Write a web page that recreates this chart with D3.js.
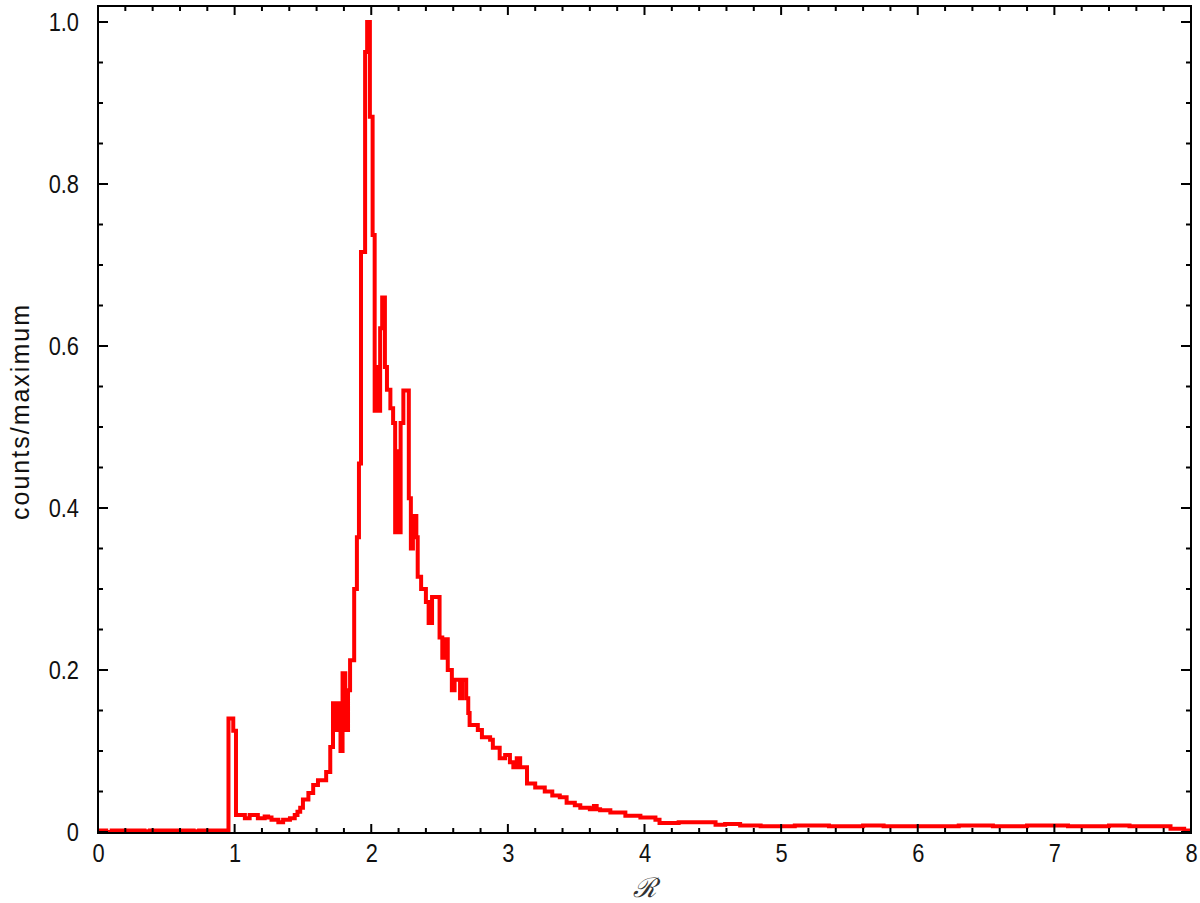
<!DOCTYPE html>
<html>
<head>
<meta charset="utf-8">
<script src="https://cdn.jsdelivr.net/npm/d3@7"></script>
<style>
  html, body { margin: 0; padding: 0; background: #fff; }
  svg { display: block; }
  .tick-label { font-family: "Liberation Sans Narrow", "Liberation Sans", Arial, sans-serif; font-size: 26px; fill: #111; }
</style>
</head>
<body>
<svg id="chart" width="1200" height="903"></svg>
<script>
// ---- data: histogram steps (left edge of each step, normalised count) ----
const binEdges = [
  0.00, 0.06, 0.10, 0.34, 0.38, 0.70, 0.74, 0.955, 0.99, 1.01,
  1.075, 1.11, 1.17, 1.22, 1.245, 1.27, 1.32, 1.355, 1.405, 1.44,
  1.46, 1.48, 1.50, 1.54, 1.575, 1.61, 1.67, 1.70, 1.72, 1.745,
  1.76, 1.775, 1.79, 1.81, 1.83, 1.845, 1.875, 1.895, 1.91, 1.925,
  1.955, 1.97, 1.99, 2.01, 2.025, 2.04, 2.05, 2.065, 2.08, 2.10,
  2.115, 2.14, 2.16, 2.175, 2.19, 2.20, 2.215, 2.235, 2.275, 2.29,
  2.305, 2.33, 2.34, 2.365, 2.40, 2.42, 2.445, 2.50, 2.52, 2.535,
  2.56, 2.59, 2.61, 2.65, 2.665, 2.695, 2.71, 2.72, 2.78, 2.81,
  2.87, 2.89, 2.94, 2.98, 3.015, 3.04, 3.065, 3.09, 3.14, 3.20,
  3.27, 3.325, 3.38, 3.43, 3.49, 3.53, 3.60, 3.63, 3.65, 3.675,
  3.75, 3.86, 3.97, 4.08, 4.11, 4.25, 4.41, 4.52, 4.59, 4.70,
  4.85, 5.10, 5.35, 5.60, 5.75, 6.00, 6.30, 6.55, 6.80, 7.05,
  7.10, 7.40, 7.55, 7.85, 7.95
];
const binValues = [
  0.002, 0.000, 0.002, 0.001, 0.002, 0.001, 0.002, 0.140, 0.125, 0.021,
  0.017, 0.021, 0.017, 0.019, 0.018, 0.015, 0.012, 0.015, 0.017, 0.021,
  0.025, 0.030, 0.040, 0.048, 0.058, 0.064, 0.074, 0.105, 0.159, 0.126,
  0.159, 0.100, 0.196, 0.126, 0.175, 0.212, 0.300, 0.364, 0.455, 0.716,
  0.963, 1.000, 0.883, 0.737, 0.520, 0.574, 0.520, 0.622, 0.660, 0.574,
  0.546, 0.523, 0.505, 0.370, 0.470, 0.370, 0.505, 0.545, 0.412, 0.350,
  0.390, 0.364, 0.315, 0.300, 0.284, 0.258, 0.290, 0.240, 0.215, 0.238,
  0.200, 0.175, 0.188, 0.165, 0.188, 0.165, 0.147, 0.132, 0.126, 0.117,
  0.114, 0.104, 0.091, 0.095, 0.086, 0.080, 0.091, 0.080, 0.060, 0.055,
  0.050, 0.045, 0.043, 0.036, 0.033, 0.030, 0.028, 0.032, 0.028, 0.027,
  0.024, 0.020, 0.018, 0.015, 0.011, 0.012, 0.012, 0.009, 0.010, 0.008,
  0.007, 0.008, 0.007, 0.008, 0.007, 0.007, 0.008, 0.007, 0.008, 0.008,
  0.007, 0.008, 0.007, 0.004, 0.002
];
const histEnd = 8.0;

// ---- axes ----
const xMajorTicks = [0, 1, 2, 3, 4, 5, 6, 7, 8];
const xTickLabels = ["0", "1", "2", "3", "4", "5", "6", "7", "8"];
const yMajorTicks = [0, 0.2, 0.4, 0.6, 0.8, 1.0];
const yTickLabels = ["0", "0.2", "0.4", "0.6", "0.8", "1.0"];
const xLabel = "\u211B";
const yLabel = "counts/maximum";

const svg = d3.select("#chart");
const L = 98, R = 1191, T = 6, B = 833;

const x = d3.scaleLinear().domain([0, 8]).range([L, R]);
const y = d3.scaleLinear().domain([-0.00123, 1.01975]).range([B, T]);

// histogram step line
const pts = binEdges.map((e, i) => [e, binValues[i]]);
pts.push([histEnd, binValues[binValues.length - 1]]);
const line = d3.line()
  .x(d => x(d[0]))
  .y(d => y(d[1]))
  .curve(d3.curveStepAfter);

svg.append("path")
  .datum(pts)
  .attr("d", line)
  .attr("fill", "none")
  .attr("stroke", "#f00")
  .attr("stroke-width", 4)
  .attr("stroke-linejoin", "miter")
  .attr("stroke-linecap", "butt");

// ticks (inside, on all four sides)
const xMinor = d3.range(0, 8.0001, 0.2).filter(v => Math.abs(v - Math.round(v)) > 1e-6);
const yMinor = d3.range(0, 1.0001, 0.05).filter(v => Math.abs(v / 0.2 - Math.round(v / 0.2)) > 1e-6);
const majLen = 9, minLen = 5;

const gt = svg.append("g").attr("stroke", "#000").attr("stroke-width", 2);
function xt(v, len) {
  gt.append("line").attr("x1", x(v)).attr("x2", x(v)).attr("y1", B).attr("y2", B - len);
  gt.append("line").attr("x1", x(v)).attr("x2", x(v)).attr("y1", T).attr("y2", T + len);
}
function yt(v, len) {
  gt.append("line").attr("y1", y(v)).attr("y2", y(v)).attr("x1", L).attr("x2", L + len);
  gt.append("line").attr("y1", y(v)).attr("y2", y(v)).attr("x1", R).attr("x2", R - len);
}
xMajorTicks.forEach(v => xt(v, majLen));
xMinor.forEach(v => xt(v, minLen));
yMajorTicks.forEach(v => yt(v, majLen + 1));
yMinor.forEach(v => yt(v, minLen));

// frame
svg.append("rect")
  .attr("x", L).attr("y", T).attr("width", R - L).attr("height", B - T)
  .attr("fill", "none").attr("stroke", "#000").attr("stroke-width", 2);

// condense text horizontally to mimic a narrow face
function condense(sel, f) {
  sel.each(function () {
    const w = this.getComputedTextLength();
    if (w > 0) d3.select(this).attr("textLength", w * f).attr("lengthAdjust", "spacingAndGlyphs");
  });
}

// tick labels via d3 axes (text only)
const gx = svg.append("g").attr("transform", `translate(0,${B})`)
  .call(d3.axisBottom(x).tickValues(xMajorTicks).tickSize(0).tickPadding(11)
    .tickFormat((d, i) => xTickLabels[i]));
gx.select(".domain").remove();
gx.selectAll("text").attr("class", "tick-label").attr("font-size", null).attr("font-family", null)
  .attr("dy", "0.71em");
condense(gx.selectAll("text"), 0.84);

const gy = svg.append("g").attr("transform", `translate(${L},0)`)
  .call(d3.axisLeft(y).tickValues(yMajorTicks).tickSize(0).tickPadding(19)
    .tickFormat((d, i) => yTickLabels[i]));
gy.select(".domain").remove();
gy.selectAll("text").attr("class", "tick-label").attr("font-size", null).attr("font-family", null);
condense(gy.selectAll("text"), 0.84);

// axis titles
svg.append("text")
  .attr("x", (L + R) / 2).attr("y", 897)
  .attr("text-anchor", "middle")
  .attr("font-family", "DejaVu Serif, serif")
  .attr("font-style", "italic")
  .attr("font-size", 27)
  .attr("fill", "#333")
  .text(xLabel);

svg.append("text")
  .attr("transform", `translate(29,${(T + B) / 2 - 8}) rotate(-90)`)
  .attr("text-anchor", "middle")
  .attr("font-family", "Liberation Sans Narrow, Liberation Sans, sans-serif")
  .attr("font-size", 25)
  .attr("letter-spacing", 2)
  .attr("fill", "#111")
  .text(yLabel);
</script>
</body>
</html>
